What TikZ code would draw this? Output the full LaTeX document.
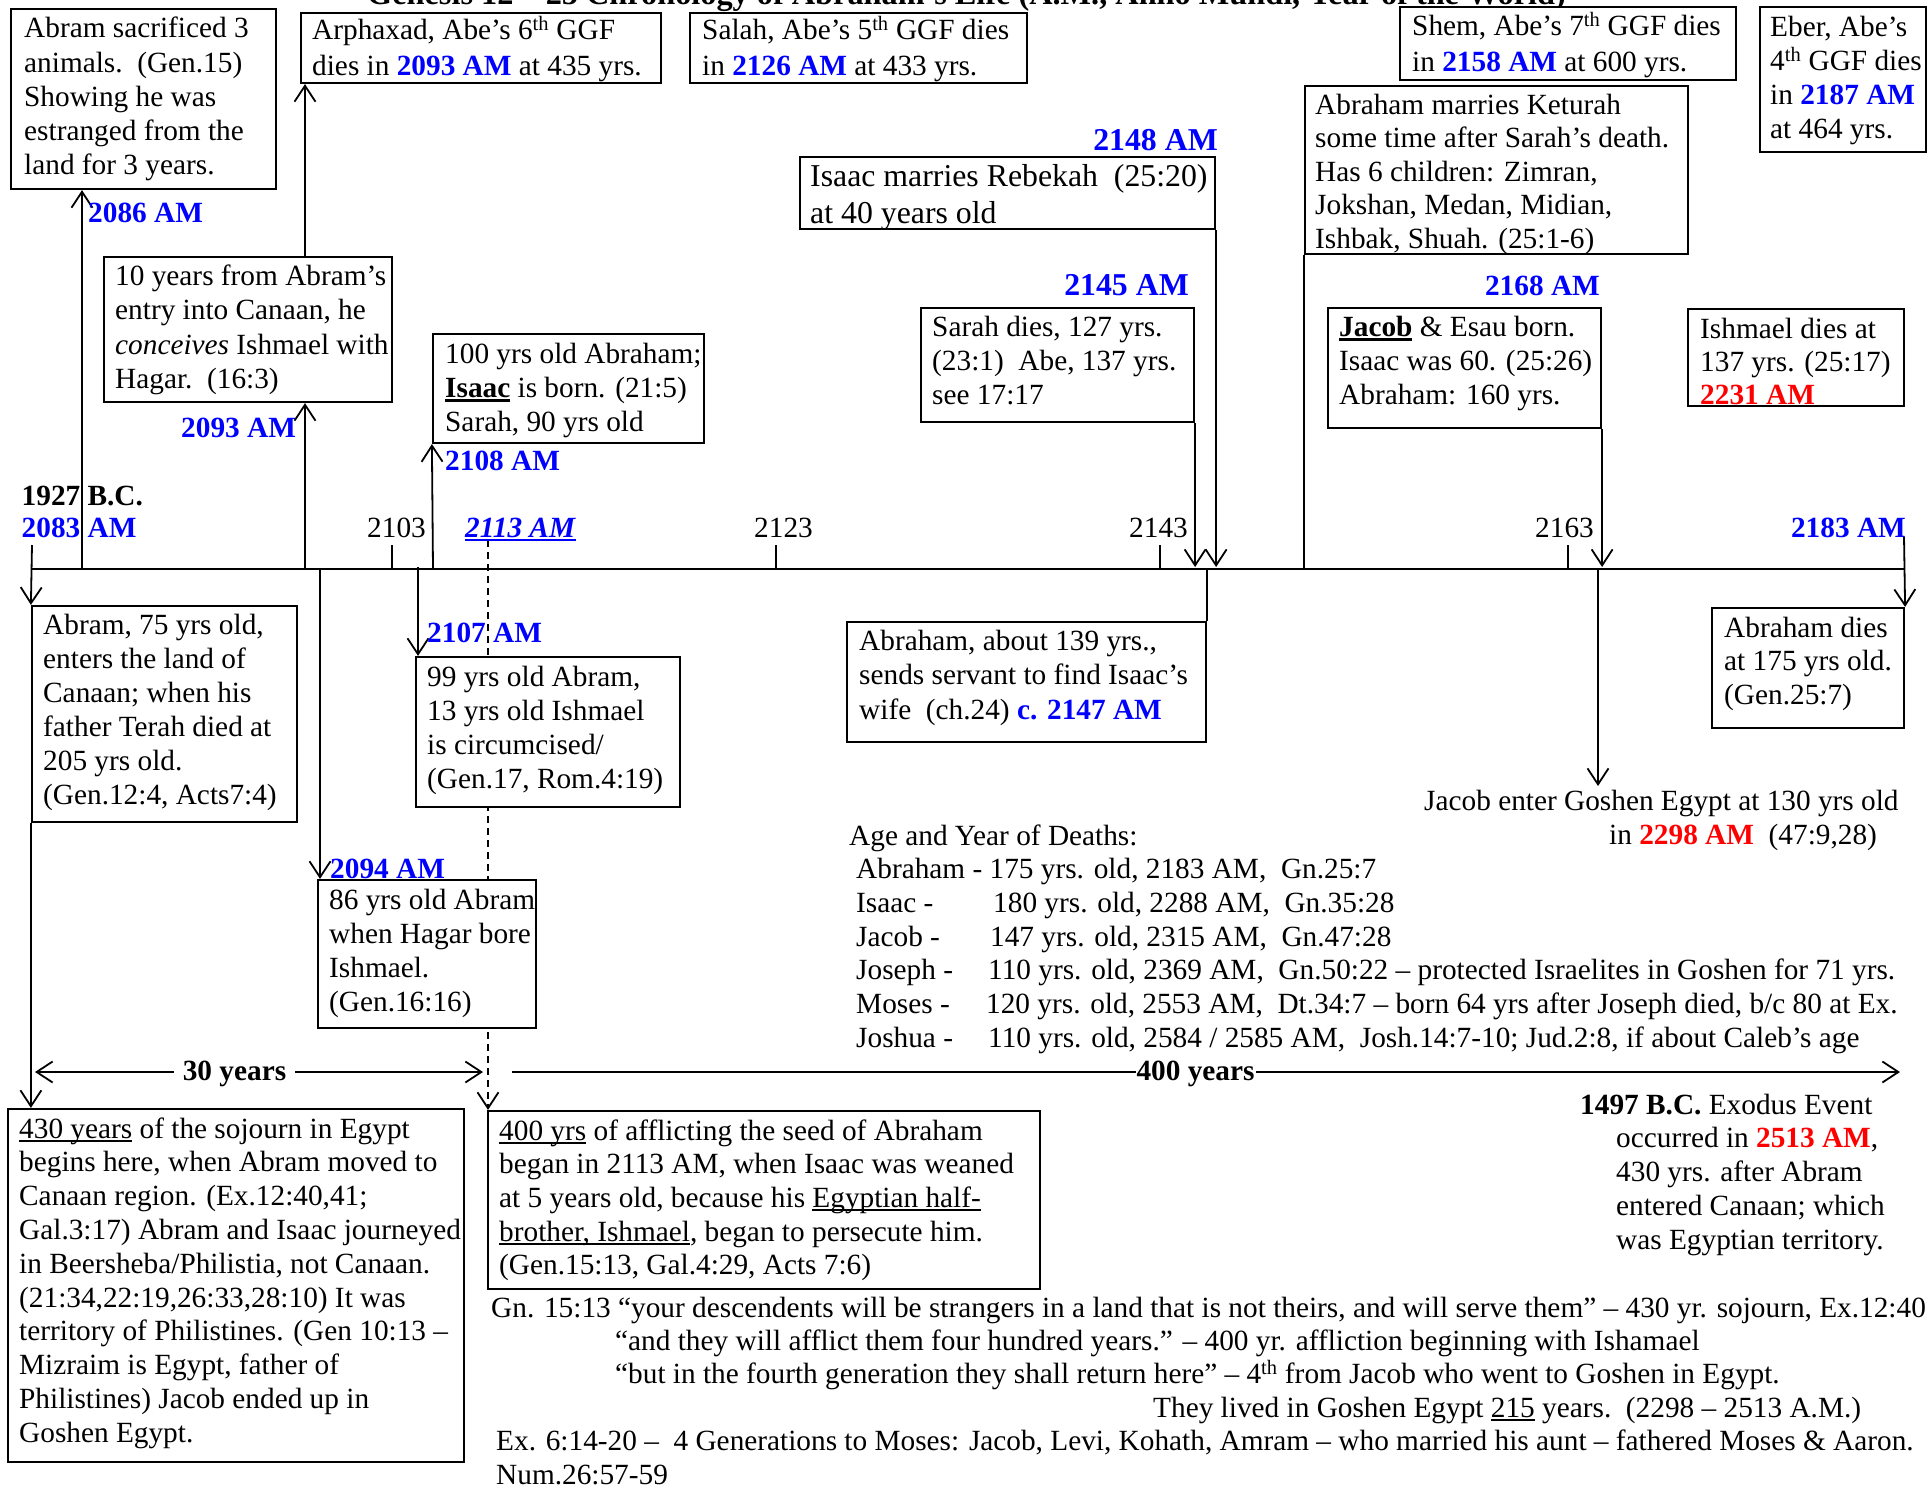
\documentclass[tikz,border=0pt]{standalone}
\usepackage{fontspec}
\setmainfont{Liberation Serif}
\usetikzlibrary{arrows.meta,fit,backgrounds}
\definecolor{amblue}{RGB}{0,0,255}
\definecolor{amred}{RGB}{255,0,0}
\newcommand\am[1]{\textcolor{amblue}{\bfseries #1}}
\newcommand\amr[1]{\textcolor{amred}{\bfseries #1}}
\newcommand\bodyfont{\fontsize{29.3}{33.7}\selectfont}
\newcommand\boxlines[2][33.7]{{\fontsize{29.3}{#1}\selectfont\begin{tabular}[t]{@{}l@{}}#2\end{tabular}}}
\newcommand\ulthin[1]{\begingroup\setbox0=\hbox{#1}\rlap{\rule[-3.5pt]{\wd0}{1.6pt}}\box0\endgroup}
\newcommand\ulbold[1]{\begingroup\setbox0=\hbox{#1}\rlap{\rule[-5pt]{\wd0}{2.6pt}}\box0\endgroup}
\begin{document}
\begin{tikzpicture}[x=1pt,y=-1pt,
  box/.style={draw, line width=2.2pt, fill=white, inner sep=0pt},
  txt/.style={inner sep=0pt, anchor=base west, font=\bodyfont},
  lbl/.style={inner sep=0pt, anchor=base west, font=\bodyfont\bfseries, text=amblue},
  arr/.style={line width=1.8pt, -{Straight Barb[length=16pt,width=21pt]}},
  dbl/.style={line width=1.8pt, {Straight Barb[length=16pt,width=21pt]}-{Straight Barb[length=16pt,width=21pt]}},
  ln/.style={line width=1.8pt},
  tl/.style={line width=2.3pt},
  dsh/.style={line width=1.8pt, dash pattern=on 7pt off 5pt}]
\useasboundingbox (0,0) rectangle (1927,1488);
\clip (0,0) rectangle (1927,1488);

% title (cut off at the top edge, as in the original)
\node[inner sep=0pt, anchor=base west, font=\fontsize{32.3}{38}\selectfont\bfseries] (title) at (367,4.5)
  {Genesis 12 – 25 Chronology of Abraham’s Life (A.M., Anno Mundi, Year of the World)};

% boxes
\node[box, fit={(11,9) (276,189)}] (sac) {};
\node[box, fit={(301,13) (661,83)}] (arph) {};
\node[box, fit={(690,13) (1027,83)}] (salah) {};
\node[box, fit={(1400,7) (1736,80)}] (shem) {};
\node[box, fit={(1760,7) (1926,152)}] (eber) {};
\node[box, fit={(1305,86) (1688,254)}] (ket) {};
\node[box, fit={(800,157) (1215,229)}] (isaacm) {};
\node[box, fit={(104,257) (392,402)}] (tenyr) {};
\node[box, fit={(433,334) (704,443)}] (hundred) {};
\node[box, fit={(921,308) (1194,422)}] (sarah) {};
\node[box, fit={(1328,308) (1601,428)}] (jacob) {};
\node[box, fit={(1688,309) (1904,406)}] (ishm) {};
\node[box, fit={(32,606) (297,822)}] (abr75) {};
\node[box, fit={(416,657) (680,807)}] (nn) {};
\node[box, fit={(318,880) (536,1028)}] (es) {};
\node[box, fit={(847,622) (1206,742)}] (otn) {};
\node[box, fit={(1712,608) (1904,728)}] (adies) {};
\node[box, fit={(8,1109) (464,1462)}] (ft) {};
\node[box, fit={(488,1111) (1040,1289)}] (fh) {};

% box texts
\node[txt] (sacT) at (24,38) {\boxlines[34]{Abram sacrificed 3\\animals.\ \ (Gen.15)\\Showing he was\\estranged from the\\land for 3 years.}};
\node[txt] (arphT) at (312,40) {\boxlines{Arphaxad, Abe’s 6\textsuperscript{th} GGF\\[1.5pt]dies in \am{2093 AM} at 435 yrs.}};
\node[txt] (salahT) at (702,40) {\boxlines{Salah, Abe’s 5\textsuperscript{th} GGF dies\\[1.5pt]in \am{2126 AM} at 433 yrs.}};
\node[txt] (shemT) at (1412,36) {\boxlines{Shem, Abe’s 7\textsuperscript{th} GGF dies\\[2.3pt]in \am{2158 AM} at 600 yrs.}};
\node[txt] (eberT) at (1770,37) {\boxlines[34]{Eber, Abe’s\\4\textsuperscript{th} GGF dies\\in \am{2187 AM}\\at 464 yrs.}};
\node[txt] (ketT) at (1315,114) {\boxlines[33.5]{Abraham marries Keturah\\some time after Sarah’s death.\\Has 6 children: Zimran,\\Jokshan, Medan, Midian,\\Ishbak, Shuah. (25:1-6)}};
\node[txt] (isaacmT) at (810,186) {{\fontsize{31.8}{37}\selectfont\begin{tabular}[t]{@{}l@{}}Isaac marries Rebekah\ \ (25:20)\\at 40 years old\end{tabular}}};
\node[txt] (tenyrT) at (115,285) {\boxlines[34.5]{10 years from Abram’s\\entry into Canaan, he\\\textit{conceives} Ishmael with\\Hagar.\ \ (16:3)}};
\node[txt] (hundredT) at (445,363) {\boxlines[34]{100 yrs old Abraham;\\\ulbold{\textbf{Isaac}} is born. (21:5)\\Sarah, 90 yrs old}};
\node[txt] (sarahT) at (932,336) {\boxlines[34]{Sarah dies, 127 yrs.\\(23:1)\ \ Abe, 137 yrs.\\see 17:17}};
\node[txt] (jacobT) at (1339,336) {\boxlines[34]{\ulbold{\textbf{Jacob}} \& Esau born.\\Isaac was 60. (25:26)\\Abraham: 160 yrs.}};
\node[txt] (ishmT) at (1700,338) {\boxlines[33]{Ishmael dies at\\137 yrs. (25:17)\\\amr{2231 AM}}};
\node[txt] (abr75T) at (43,634) {\boxlines[34]{Abram, 75 yrs old,\\enters the land of\\Canaan; when his\\father Terah died at\\205 yrs old.\\(Gen.12:4, Acts7:4)}};
\node[txt] (nnT) at (427,686) {\boxlines[34]{99 yrs old Abram,\\13 yrs old Ishmael\\is circumcised/\\(Gen.17, Rom.4:19)}};
\node[txt] (esT) at (329,909) {\boxlines[34]{86 yrs old Abram\\when Hagar bore\\Ishmael.\\(Gen.16:16)}};
\node[txt] (otnT) at (859,650) {\boxlines[34.5]{Abraham, about 139 yrs.,\\sends servant to find Isaac’s\\wife\ \ (ch.24) \am{c. 2147 AM}}};
\node[txt] (adiesT) at (1724,637) {\boxlines[33.7]{Abraham dies\\at 175 yrs old.\\(Gen.25:7)}};
\node[txt] (ftT) at (19,1138) {\boxlines[33.8]{\ulthin{430 years} of the sojourn in Egypt\\begins here, when Abram moved to\\Canaan region. (Ex.12:40,41;\\Gal.3:17) Abram and Isaac journeyed\\in Beersheba/Philistia, not Canaan.\\(21:34,22:19,26:33,28:10) It was\\territory of Philistines. (Gen 10:13 –\\Mizraim is Egypt, father of\\Philistines) Jacob ended up in\\Goshen Egypt.}};
\node[txt] (fhT) at (499,1140) {\boxlines{\ulthin{400 yrs} of afflicting the seed of Abraham\\began in 2113 AM, when Isaac was weaned\\at 5 years old, because his \ulthin{Egyptian half-}\\\ulthin{brother, Ishmael}, began to persecute him.\\(Gen.15:13, Gal.4:29, Acts 7:6)}};

% timeline labels
\node[lbl] (l2086) at (88,222) {2086 AM};
\node[lbl] (l2093) at (181,437) {2093 AM};
\node[lbl] (l2108) at (445,470) {2108 AM};
\node[lbl] (l2107) at (427,642) {2107 AM};
\node[lbl] (l2094) at (330,878) {2094 AM};
\node[lbl, anchor=base east, font=\fontsize{31.8}{37}\selectfont\bfseries] (l2148) at (1218,150) {2148 AM};
\node[lbl, anchor=base east, font=\fontsize{31.8}{37}\selectfont\bfseries] (l2145) at (1189,295) {2145 AM};
\node[lbl, anchor=base east] (l2168) at (1600,295) {2168 AM};
\node[lbl, text=black] (l1927) at (21.5,505) {1927 B.C.};
\node[lbl] (l2083) at (21.5,537) {2083 AM};
\node[txt] (n2103) at (367,537) {2103};
\node[txt] (n2123) at (754,537) {2123};
\node[txt] (n2143) at (1129,537) {2143};
\node[txt] (n2163) at (1535,537) {2163};
\node[lbl] (l2113) at (465,537) {\ulthin{\textit{2113 AM}}};
\node[lbl, anchor=base east] (l2183) at (1906,537) {2183 AM};

% free texts
\node[txt] (goshen) at (1424,810) {\boxlines[34]{Jacob enter Goshen Egypt at 130 yrs old\\\hspace*{185pt}in \amr{2298 AM}\ \ (47:9,28)}};
\node[txt] (deaths) at (849,845) {\boxlines{Age and Year of Deaths:\\
\hspace*{7pt}Abraham - 175 yrs. old, 2183 AM,\ \ Gn.25:7\\
\hspace*{7pt}\makebox[137pt][l]{Isaac -}180 yrs. old, 2288 AM,\ \ Gn.35:28\\
\hspace*{7pt}\makebox[134pt][l]{Jacob -}147 yrs. old, 2315 AM,\ \ Gn.47:28\\
\hspace*{7pt}\makebox[132pt][l]{Joseph -}110 yrs. old, 2369 AM,\ \ Gn.50:22 – protected Israelites in Goshen for 71 yrs.\\
\hspace*{7pt}\makebox[130pt][l]{Moses -}120 yrs. old, 2553 AM,\ \ Dt.34:7 – born 64 yrs after Joseph died, b/c 80 at Ex.\\
\hspace*{7pt}\makebox[132pt][l]{Joshua -}110 yrs. old, 2584 / 2585 AM,\ \ Josh.14:7-10; Jud.2:8, if about Caleb’s age}};
\node[txt] (exodus) at (1580,1114) {\boxlines[33.9]{\textbf{1497 B.C.} Exodus Event\\
\hspace*{36pt}occurred in \amr{2513 AM},\\
\hspace*{36pt}430 yrs. after Abram\\
\hspace*{36pt}entered Canaan; which\\
\hspace*{36pt}was Egyptian territory.}};
\node[txt] (quotes) at (491,1317) {\boxlines[33.4]{Gn. 15:13 “your descendents will be strangers in a land that is not theirs, and will serve them” – 430 yr. sojourn, Ex.12:40\\
\hspace*{124pt}“and they will afflict them four hundred years.” – 400 yr. affliction beginning with Ishamael\\
\hspace*{124pt}“but in the fourth generation they shall return here” – 4\textsuperscript{th} from Jacob who went to Goshen in Egypt.\\
\hspace*{662pt}They lived in Goshen Egypt \ulthin{215} years.\ \ (2298 – 2513 A.M.)\\
\hspace*{5pt}Ex. 6:14-20 –\ \ 4 Generations to Moses: Jacob, Levi, Kohath, Amram – who married his aunt – fathered Moses \& Aaron.\\
\hspace*{5pt}Num.26:57-59}};

% span arrows
\coordinate (a30L) at (35,1072);
\coordinate (a30R) at (483,1072);
\coordinate (a400L) at (512,1072);
\coordinate (a400R) at (1900,1072);
\node[inner xsep=9pt, inner ysep=2pt, fill=white, anchor=base, font=\bodyfont\bfseries] (t30) at (234.5,1080) {30 years};
\node[inner xsep=1pt, inner ysep=2pt, fill=white, anchor=base, font=\bodyfont\bfseries] (t400) at (1195.5,1080) {400 years};

% coordinates on the timeline
\coordinate (tlL) at (31,569);
\coordinate (tlR) at (1904,569);
\coordinate (c2083) at (32,545);
\coordinate (c2086) at (82,569);
\coordinate (c2093) at (305,569);
\coordinate (c2094) at (320,569);
\coordinate (c2107) at (418,567);
\coordinate (c2108) at (433,569);
\coordinate (c2113) at (488,540);
\coordinate (cgos) at (1598,569);
\coordinate (c2183) at (1904,537);

\begin{scope}[on background layer]
\draw[tl] (tlL) -- (tlR);
\foreach \tx in {392,776,1160,1568} \draw[ln] (\tx,545) -- (\tx,569);
\draw[arr] (c2083) -- (abr75.north west);
\draw[arr] (abr75.south west) -- (abr75.south west |- ft.north);
\draw[arr] (c2086) -- (c2086 |- sac.south);
\draw[arr] (c2093) -- (c2093 |- tenyr.south);
\draw[arr] (c2093 |- tenyr.north) -- (c2093 |- arph.south);
\draw[arr] (c2094) -- (c2094 |- es.north);
\draw[arr] (c2107) -- (c2107 |- nn.north);
\draw[arr] (c2108) -- (hundred.south west);
\draw[dsh, arr] (c2113) -- (c2113 |- fh.north);
\draw[arr, shorten >=2pt] (sarah.south east) -- (sarah.south east |- tlL);
\draw[arr, shorten >=2pt] (isaacm.south east) -- (isaacm.south east |- tlL);
\draw[ln] (ket.south west) -- (ket.south west |- tlL);
\draw[ln] (otn.north east |- tlL) -- (otn.north east);
\draw[arr, shorten >=2pt] (jacob.south east) -- (jacob.south east |- tlL);
\draw[arr] (cgos) -- (cgos |- goshen.north);
\draw[arr] (c2183) -- (adies.north east);
\draw[dbl] (a30L) -- (a30R);
\draw[arr] (a400L) -- (a400R);
\end{scope}
\end{tikzpicture}
\end{document}
